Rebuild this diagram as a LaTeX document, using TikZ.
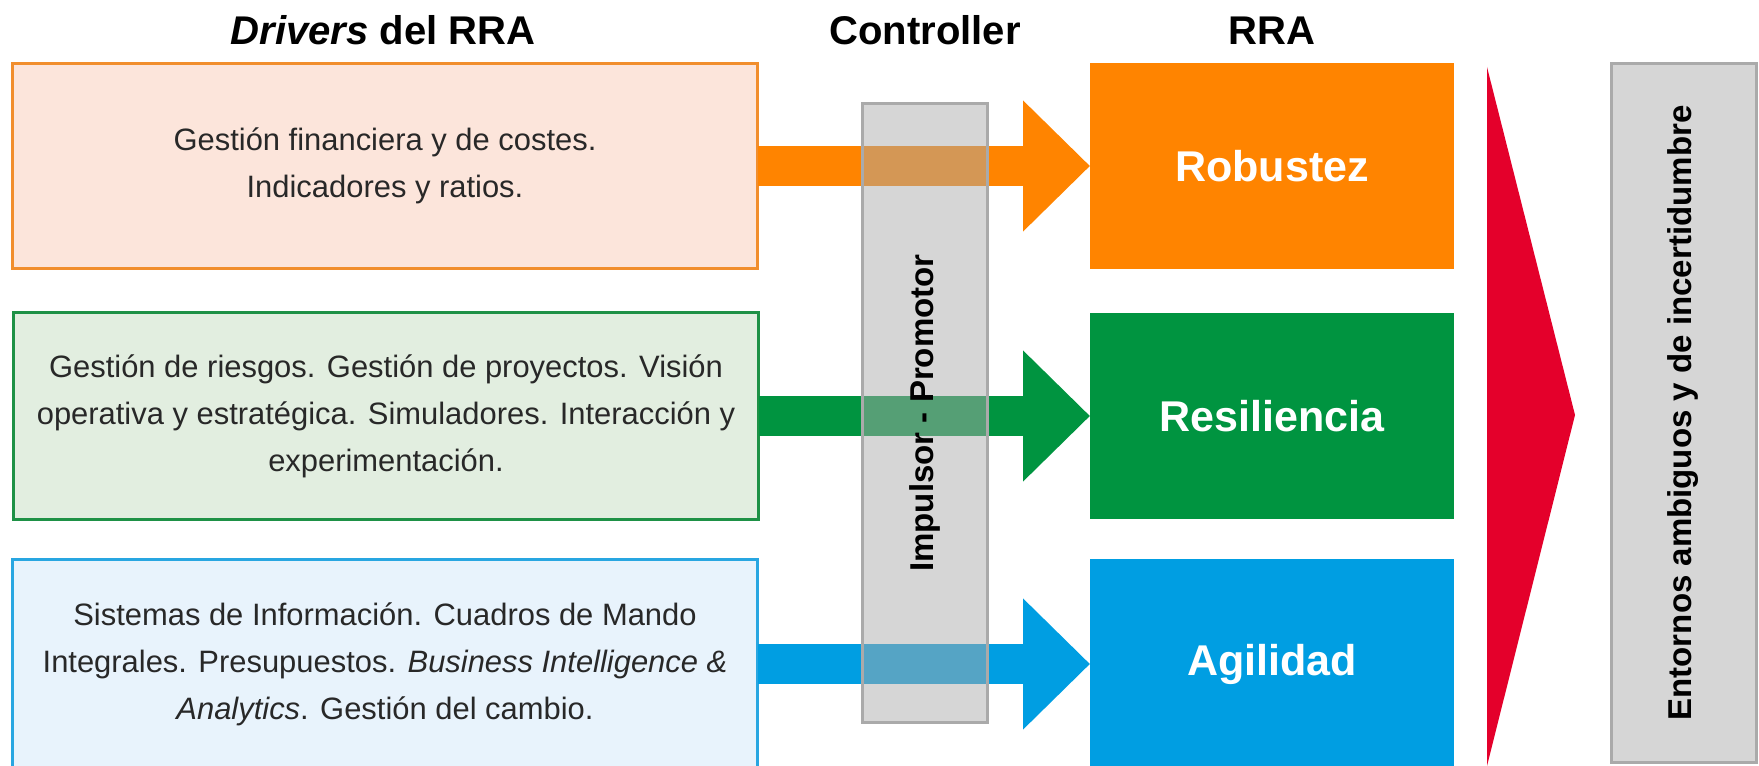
\documentclass[tikz,border=0pt]{standalone}
\usepackage{fontspec}
\setmainfont{Liberation Sans}
\usetikzlibrary{arrows.meta,positioning,calc}

\definecolor{drvorange}{RGB}{241,142,45}
\definecolor{drvorangebg}{RGB}{252,229,219}
\definecolor{drvgreen}{RGB}{30,145,70}
\definecolor{drvgreenbg}{RGB}{226,238,224}
\definecolor{drvblue}{RGB}{40,166,225}
\definecolor{drvbluebg}{RGB}{232,243,252}
\definecolor{rraorange}{RGB}{255,132,0}
\definecolor{rragreen}{RGB}{0,148,64}
\definecolor{rrablue}{RGB}{0,158,226}
\definecolor{rrared}{RGB}{228,0,43}
\definecolor{ctrlgray}{RGB}{214,214,214}
\definecolor{ctrlline}{RGB}{170,170,170}
\definecolor{shadegray}{RGB}{170,170,170}
\definecolor{bodytext}{RGB}{40,40,40}

\tikzset{
  driver/.style={draw, line width=0.06cm, minimum width=14.92cm, align=center,
    text=bodytext, font=\fontsize{17.6}{26.7}\selectfont, outer sep=0pt},
  rrabox/.style={minimum width=7.28cm, text=white,
    font=\fontsize{24.5}{29}\selectfont\bfseries, outer sep=0pt},
  head/.style={anchor=base, font=\fontsize{22.8}{27}\selectfont\bfseries},
  flow/.style={line width=0.8cm, -{Triangle[length=1.34cm, width=2.54cm]}},
  bar/.style={draw=ctrlline, line width=0.06cm, fill=ctrlgray, outer sep=0pt},
  vlabel/.style={rotate=90, font=\fontsize{18.8}{22}\selectfont\bfseries}
}

\begin{document}
\begin{tikzpicture}[x=0.02cm, y=-0.02cm]
  \useasboundingbox (0,0) rectangle (1759,766);

  % drivers
  \node[driver, draw=drvorange, fill=drvorangebg, minimum height=4.1cm] (dfin) at (385,166)
    {Gestión financiera y de costes.\\Indicadores y ratios.};
  \node[driver, draw=drvgreen, fill=drvgreenbg, minimum height=4.16cm] (driesgo) at (386,416)
    {Gestión de riesgos. Gestión de proyectos. Visión\\operativa y estratégica. Simuladores. Interacción y\\experimentación.};
  \node[driver, draw=drvblue, fill=drvbluebg, minimum height=4.2cm] (dinfo) at (385,664)
    {Sistemas de Información. Cuadros de Mando\\Integrales. Presupuestos. \textit{Business Intelligence \&}\\\textit{Analytics}. Gestión del cambio.};

  % RRA
  \node[rrabox, fill=rraorange, minimum height=4.12cm] (rob) at (1272,166) {Robustez};
  \node[rrabox, fill=rragreen, minimum height=4.14cm] (res) at (1272,416) {Resiliencia};
  \node[rrabox, fill=rrablue, minimum height=4.2cm] (agi) at (1272,664) {Agilidad};

  % controller
  \node[bar, minimum width=2.52cm, minimum height=12.4cm] (ctrl) at (925,413) {};

  \foreach \src/\dst/\col in {dfin/rob/rraorange, driesgo/res/rragreen, dinfo/agi/rrablue} {
    \draw[flow, \col] (\src.east) -- (\dst.west);
    \fill[shadegray, fill opacity=0.5] ($(ctrl.west |- \src.east)+(0,20)$)
      rectangle ($(ctrl.east |- \src.east)+(0,-20)$);
  }
  \draw[ctrlline, line width=0.06cm] (ctrl.south west) rectangle (ctrl.north east);
  \node[vlabel] (impulsor) at (ctrl.center) {Impulsor - Promotor};

  % entorno
  \fill[rrared] (1487,67) -- (1575,415) -- (1487,766) -- cycle;
  \node[bar, minimum width=2.9cm, minimum height=14cm] (env) at (1683.5,413) {};
  \node[vlabel] (entornos) at (env.center) {Entornos ambiguos y de incertidumbre};

  % titles
  \node[head] (tdrv) at (383,45) {\textit{Drivers} del RRA};
  \node[head] (tctrl) at (925,45) {Controller};
  \node[head] (trra) at (1272,45) {RRA};
\end{tikzpicture}
\end{document}
